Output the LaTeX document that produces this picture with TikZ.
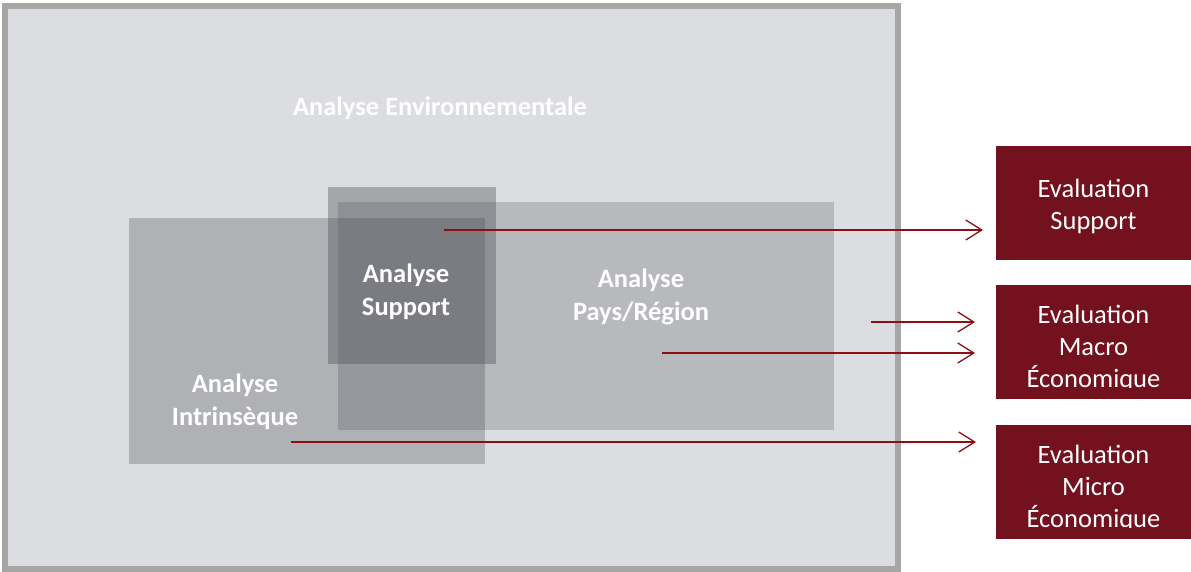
\documentclass[tikz,border=0pt]{standalone}
\usepackage{fontspec}
\setmainfont{Carlito}
\usetikzlibrary{arrows.meta,positioning}
\definecolor{frameGray}{RGB}{166,166,166}
\definecolor{bgGray}{RGB}{220,221,224}
\definecolor{zoneGray}{RGB}{80,81,86}
\definecolor{evalRed}{RGB}{115,17,30}
\definecolor{arrowRed}{RGB}{140,15,20}

\begin{document}
\begin{tikzpicture}[x=1pt,y=-1pt,
  every node/.style={inner sep=0pt,outer sep=0pt},
  zone/.style={fill=zoneGray,fill opacity=#1},
  zonetxt/.style={text=white,align=center,font=\fontsize{26.5}{33}\selectfont\bfseries},
  evalbox/.style={fill=evalRed,minimum width=195pt,minimum height=114pt},
  evaltxt/.style={text=white,align=center,font=\fontsize{26.5}{32}\selectfont},
  flow/.style={draw=arrowRed,line width=1.3pt,-{Straight Barb[length=16pt,width=20pt]}}]
\useasboundingbox (0,0) rectangle (1191,571);

% environment frame
\node[draw=frameGray,line width=6pt,fill=bgGray,minimum width=893.5pt,minimum height=562.5pt] (env) at (451.25,287.25) {};
\node[zonetxt] (envtxt) at (440,108) {Analyse Environnementale};

% overlapping zones
\node[zone=0.31,minimum width=356pt,minimum height=246pt] (intr) at (307,341) {};
\node[zone=0.25,minimum width=496pt,minimum height=228pt] (pays) at (586,316) {};
\node[zone=0.39,minimum width=168pt,minimum height=177pt] (sup) at (412,275.5) {};

\node[zonetxt] (suptxt) at (406,292) {Analyse\\Support};
\node[zonetxt] (paystxt) at (641,297) {Analyse\\Pays/Région};
\node[zonetxt] (intrtxt) at (235,402) {Analyse\\Intrinsèque};

% evaluation boxes
\node[evalbox] (evalsup) at (1093.5,203) {};
\node[evalbox] (evalmacro) at (1093.5,342) {};
\node[evalbox] (evalmicro) at (1093.5,482) {};

\node[evaltxt] (evalsuptxt) at (1093.5,206) {Evaluation\\Support};
\begin{scope}
\clip (evalmacro.north west) rectangle ([yshift=12pt]evalmacro.south east);
\node[evaltxt] (evalmacrotxt) at (1093.5,348) {Evaluation\\Macro\\Économique};
\end{scope}
\begin{scope}
\clip (evalmicro.north west) rectangle ([yshift=12pt]evalmicro.south east);
\node[evaltxt] (evalmicrotxt) at (1093.5,488) {Evaluation\\Micro\\Économique};
\end{scope}

% arrows
\coordinate (supout) at (444,230);
\coordinate (macroout) at (871,322);
\coordinate (paysout) at (662,353);
\coordinate (introut) at (291,442);
\draw[flow,shorten >=13pt] (supout) -- (supout -| evalsup.west);
\draw[flow,shorten >=21pt] (macroout) -- (macroout -| evalmacro.west);
\draw[flow,shorten >=21pt] (paysout) -- (paysout -| evalmacro.west);
\draw[flow,shorten >=20pt] (introut) -- (introut -| evalmicro.west);
\end{tikzpicture}
\end{document}
